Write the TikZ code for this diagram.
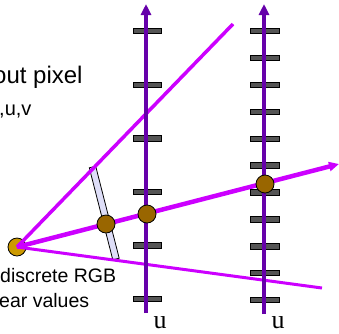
\documentclass[tikz,border=0pt]{standalone}
\usepackage{fontspec}
\setmainfont{Liberation Sans}
\newfontfamily\axisfont{Liberation Serif}
\usetikzlibrary{arrows.meta}

\definecolor{axisviolet}{RGB}{102,0,170}
\definecolor{raymagenta}{RGB}{204,0,255}
\definecolor{tickgray}{RGB}{85,85,85}
\definecolor{screenfill}{RGB}{222,222,248}
\definecolor{sampbrown}{RGB}{153,102,0}
\definecolor{eyegold}{RGB}{204,153,0}

\begin{document}
\begin{tikzpicture}[x=1pt,y=-1pt,
  axisline/.style={draw=axisviolet, line width=4pt, -{Triangle[length=11pt,width=10pt]}},
  tickbar/.style={draw=black, line width=0.8pt, fill=tickgray},
  ray/.style={draw=raymagenta, line width=3.5pt},
  sample/.style={circle, draw=black, line width=0.8pt, fill=sampbrown, minimum size=18pt, inner sep=0pt},
  eyept/.style={sample, fill=eyegold},
  caption/.style={inner sep=0pt, anchor=base west, text=black},
  axislabel/.style={inner sep=0pt, anchor=base, font=\axisfont\fontsize{26}{28}\selectfont}
]
\useasboundingbox (0,0) rectangle (339,333);

% image plane seen edge-on
\draw[draw=black, line width=0.8pt, fill=screenfill]
  (89.3,167.8) -- (95.7,166.2) -- (119.2,258.2) -- (112.8,259.8) -- cycle;

% viewpoint and the end points of the three rays
\node[eyept] (eye) at (17,247) {};
\coordinate (topend) at (233,24);
\coordinate (midtip) at (339,164);
\coordinate (lowend) at (322,288);

\draw[ray] (eye.center) -- (topend);
\draw[ray, line width=3pt] (eye.center) -- (lowend);
\draw[ray, line width=4.5pt, -{Triangle[length=10pt,width=9pt]}] (eye.center) -- (midtip);

% tick marks along the two axes
\foreach \k in {0,...,5}
  \draw[tickbar] (133,{31+53.6*\k-2.7}) rectangle (161,{31+53.6*\k+2.7});
\foreach \k in {0,...,10}
  \draw[tickbar] (250,{31+26.9*\k-2.7}) rectangle (279,{31+26.9*\k+2.7});

% the two axes
\coordinate (lbot) at (146,313);
\coordinate (ltop) at (146,4);
\coordinate (rbot) at (264,314);
\coordinate (rtop) at (264,4);
\draw[axisline] (lbot) -- (ltop);
\draw[axisline] (rbot) -- (rtop);

% samples along the middle ray
\node[sample] (s1) at (106,224) {};
\node[sample] (s2) at (147,214) {};
\node[sample] (s3) at (265,184) {};

% axis labels
\node[axislabel] (ulabel1) at (160,328) {u};
\node[axislabel] (ulabel2) at (278,328) {u};

% captions, running in from the left edge
\node[caption, font=\fontsize{24}{28}\selectfont] (cap1) at (-7,83) {out pixel};
\node[caption, font=\fontsize{20}{24}\selectfont] (cap2) at (-1,115) {,u,v};
\node[caption, font=\fontsize{19.5}{23}\selectfont] (cap3) at (0,282) {discrete RGB};
\node[caption, font=\fontsize{19.5}{23}\selectfont] (cap4) at (-1,307) {ear values};
\end{tikzpicture}
\end{document}
